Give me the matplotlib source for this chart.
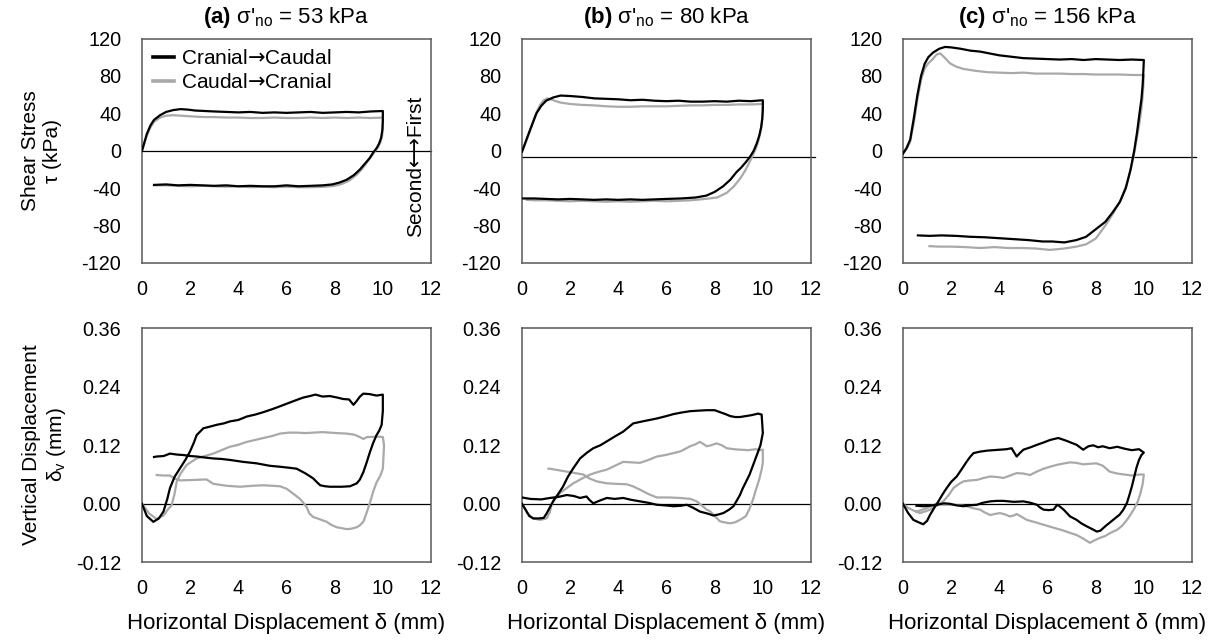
import matplotlib
matplotlib.use("Agg")
import matplotlib.pyplot as plt

plt.rcParams['font.family'] = ['Liberation Sans', 'DejaVu Sans']
plt.rcParams['mathtext.fontset'] = 'custom'
plt.rcParams['mathtext.rm'] = 'Liberation Sans'
plt.rcParams['mathtext.it'] = 'Liberation Sans:italic'
plt.rcParams['mathtext.bf'] = 'Liberation Sans:bold'
plt.rcParams['mathtext.sf'] = 'DejaVu Sans'
plt.rcParams['axes.unicode_minus'] = False

# ---------------- data ----------------
panel_tags = ["(a)", "(b)", "(c)"]
panel_stress = ["53", "80", "156"]
series_names = ["Cranial$\\mathsf{→}$Caudal", "Caudal$\\mathsf{→}$Cranial"]
x_ticks = [0, 2, 4, 6, 8, 10, 12]
tau_ticks = [120, 80, 40, 0, -40, -80, -120]
dv_ticks = [0.36, 0.24, 0.12, 0.00, -0.12]
dv_tick_labels = ["0.36", "0.24", "0.12", "0.00", "-0.12"]
top_zero_line = [0, -7, -7]

# ---- shear stress, panel (a)
a_tau_blk_x = [0, 0.1, 0.2, 0.35, 0.5, 0.75, 1.0, 1.3, 1.6, 1.9, 2.2, 2.6, 3.0, 3.5, 4.0, 4.5, 5.0, 5.5, 6.0, 6.5, 7.0, 7.5, 8.0, 8.5, 9.0, 9.5, 10.0,
               10.0, 9.98, 9.93, 9.85, 9.75, 9.6, 9.45, 9.25, 9.05, 8.8, 8.5, 8.2, 7.9, 7.5, 7.0, 6.5, 6.0, 5.5, 5.0, 4.5, 4.0, 3.5, 3.0, 2.5, 2.0, 1.5, 1.0, 0.5]
a_tau_blk_y = [0, 9, 18, 27, 33, 38, 41.5, 43.5, 44.5, 44, 43, 42.5, 42, 41.5, 41, 41.5, 40.5, 41, 40.5, 41, 41.5, 40.5, 41, 41.5, 41, 42, 42.5,
               32, 22, 14, 8, 3, -2, -8, -14, -20, -26, -31, -34, -36, -37, -37.5, -38, -37, -38, -38, -37.5, -38, -37, -37.5, -37, -36.5, -37, -36, -36.5]
a_tau_gry_x = [0, 0.1, 0.2, 0.35, 0.5, 0.75, 1.0, 1.3, 1.6, 1.9, 2.2, 2.6, 3.0, 3.5, 4.0, 4.5, 5.0, 5.5, 6.0, 6.5, 7.0, 7.5, 8.0, 8.5, 9.0, 9.5, 10.0,
               10.0, 9.97, 9.9, 9.8, 9.68, 9.55, 9.35, 9.15, 8.9, 8.6, 8.3, 8.0, 7.6, 7.0, 6.5, 6.0, 5.5, 5.0, 4.5, 4.0, 3.5, 3.0, 2.5, 2.0, 1.5, 1.0, 0.5]
a_tau_gry_y = [0, 8, 16, 25, 31, 35.5, 37.5, 38, 37.5, 37, 36.5, 36, 36, 35.5, 35.5, 35, 35, 35.5, 35, 35, 35.5, 35, 35.5, 35, 35.5, 35, 35.5,
               25, 16, 9, 4, 0, -5, -12, -19, -26, -32, -35.5, -37.5, -38.5, -39, -39, -38.5, -39, -38.5, -39, -38, -38.5, -38, -37.5, -38, -37.5, -37, -37]

# ---- shear stress, panel (b)
b_tau_blk_x = [0, 0.1, 0.2, 0.33, 0.45, 0.6, 0.8, 1.0, 1.3, 1.6, 2.0, 2.5, 3.0, 3.5, 4.0, 4.5, 5.0, 5.5, 6.0, 6.5, 7.0, 7.5, 8.0, 8.5, 9.0, 9.5, 10.0,
               10.0, 9.98, 9.93, 9.85, 9.75, 9.62, 9.48, 9.3, 9.1, 8.9, 8.65, 8.35, 8.0, 7.65, 7.2, 6.6, 6.0, 5.5, 5.0, 4.5, 4.0, 3.5, 3.0, 2.5, 2.0, 1.5, 1.0, 0.5, 0.05]
b_tau_blk_y = [-1, 6, 13, 22, 30, 40, 48, 53.5, 57, 59, 58.5, 57.5, 56, 55.5, 55, 54, 54.5, 53.5, 53, 53.5, 52.5, 52.5, 53, 52.5, 53.5, 53, 54,
               45, 35, 25, 16, 8, 0, -6, -12, -18, -23, -31, -38, -44, -48, -50, -51, -51.5, -52, -52.5, -52, -52.5, -52, -52.5, -52, -51.5, -52, -51.5, -51, -51]
b_tau_gry_x = [0, 0.1, 0.2, 0.33, 0.45, 0.6, 0.75, 0.9, 1.05, 1.2, 1.4, 1.6, 2.0, 2.5, 3.0, 3.5, 4.0, 4.5, 5.0, 5.5, 6.0, 6.5, 7.0, 7.5, 8.0, 8.5, 9.0, 9.5, 10.0,
               9.99, 9.96, 9.9, 9.82, 9.72, 9.6, 9.45, 9.25, 9.05, 8.8, 8.5, 8.1, 7.6, 7.0, 6.5, 6.0, 5.5, 5.0, 4.5, 4.0, 3.5, 3.0, 2.5, 2.0, 1.5, 1.0, 0.5, 0.2]
b_tau_gry_y = [-1, 5, 12, 21, 30, 41, 49, 54, 56, 55, 53, 51.5, 50, 49, 48.5, 47.5, 47, 47, 47.5, 47.5, 47.5, 48, 48.5, 48.5, 49, 49, 49.5, 49.5, 50,
               40, 30, 20, 11, 3, -4, -12, -22, -30, -38, -45, -50, -51.5, -53, -53.5, -54, -53.5, -54, -54.5, -54, -54.5, -54, -53.5, -54, -53.5, -53, -53, -52.5]

# ---- shear stress, panel (c)
c_tau_blk_x = [0, 0.15, 0.3, 0.45, 0.6, 0.75, 0.9, 1.05, 1.25, 1.5, 1.75, 2.0, 2.4, 2.8, 3.2, 3.6, 4.0, 4.5, 5.0, 5.5, 6.0, 6.5, 7.0, 7.5, 8.0, 8.5, 9.0, 9.5, 10.0,
               9.98, 9.95, 9.9, 9.82, 9.72, 9.6, 9.45, 9.25, 9.0, 8.7, 8.4, 8.0, 7.6, 7.2, 6.7, 6.2, 5.8, 5.2, 4.6, 4.0, 3.4, 2.8, 2.2, 1.6, 1.1, 0.62]
c_tau_blk_y = [-3, 3, 12, 35, 60, 80, 93, 100, 105, 109, 111, 110.5, 109, 107, 106, 104, 102, 100.5, 99, 98.5, 98, 97.5, 98, 97, 98, 97.5, 97, 97.5, 97,
               85, 70, 55, 40, 20, 0, -20, -40, -55, -66, -76, -84, -92, -95.5, -98, -97, -97, -95.5, -94.5, -93.5, -92.5, -92, -91, -90.5, -91, -90.5]
c_tau_gry_x = [0, 0.15, 0.3, 0.45, 0.6, 0.75, 0.9, 1.05, 1.2, 1.4, 1.55, 1.75, 1.95, 2.2, 2.5, 3.0, 3.5, 4.0, 4.5, 5.0, 5.5, 6.0, 6.5, 7.0, 7.5, 8.0, 8.5, 9.0, 9.5, 10.0,
               9.98, 9.95, 9.9, 9.82, 9.72, 9.62, 9.5, 9.3, 9.05, 8.75, 8.4, 8.0, 7.6, 7.2, 6.7, 6.1, 5.5, 5.0, 4.4, 3.8, 3.2, 2.6, 2.0, 1.5, 1.1]
c_tau_gry_y = [-3, 2, 10, 30, 55, 76, 88, 93.5, 97, 103, 104, 99, 93.5, 90, 87.5, 85.5, 84, 83.5, 83, 83.5, 82.5, 82.5, 82.5, 82, 82, 81.5, 81.5, 81.5, 81, 81,
               70, 58, 45, 30, 15, 0, -15, -35, -52, -66, -80, -94, -100, -102.5, -104.5, -106, -104.5, -104, -104, -103, -104, -103, -102.5, -102.5, -102]

# ---- vertical displacement, panel (a)
a_dv_blk_x = [0, 0.2, 0.47, 0.7, 0.89, 1.05, 1.16, 1.35, 1.58, 1.8, 1.99, 2.15, 2.27, 2.55, 2.8, 3.1, 3.4, 3.65, 4.0, 4.35, 4.7, 5.04, 5.4, 5.73, 6.1, 6.42, 6.7, 6.97, 7.2, 7.5, 7.8, 8.1, 8.35, 8.6, 8.78, 8.9, 9.05, 9.19, 9.45, 9.74, 10.0,
              10.0, 9.95, 9.85, 9.74, 9.6, 9.47, 9.33, 9.19, 9.05, 8.92, 8.64, 8.3, 8.0, 7.8, 7.6, 7.4, 7.25, 7.11, 6.8, 6.42, 6.1, 5.73, 5.3, 4.76, 4.2, 3.65, 3.3, 2.96, 2.6, 2.27, 2.0, 1.72, 1.45, 1.16, 0.9, 0.61, 0.5]
a_dv_blk_y = [0, -0.025, -0.037, -0.03, -0.016, 0.01, 0.032, 0.055, 0.073, 0.09, 0.107, 0.125, 0.141, 0.155, 0.158, 0.162, 0.165, 0.169, 0.172, 0.179, 0.183, 0.188, 0.194, 0.2, 0.207, 0.213, 0.218, 0.221, 0.224, 0.22, 0.221, 0.218, 0.215, 0.214, 0.203, 0.21, 0.22, 0.226, 0.225, 0.222, 0.224,
              0.19, 0.162, 0.15, 0.141, 0.125, 0.107, 0.085, 0.065, 0.05, 0.042, 0.036, 0.035, 0.035, 0.035, 0.036, 0.038, 0.045, 0.052, 0.062, 0.072, 0.074, 0.076, 0.078, 0.083, 0.086, 0.09, 0.092, 0.093, 0.095, 0.097, 0.098, 0.1, 0.101, 0.103, 0.098, 0.097, 0.096]
a_dv_gry_x = [0, 0.3, 0.6, 0.89, 1.1, 1.23, 1.35, 1.44, 1.6, 1.86, 2.05, 2.27, 2.6, 2.96, 3.3, 3.65, 4.0, 4.35, 4.7, 5.04, 5.4, 5.73, 6.1, 6.42, 6.8, 7.11, 7.5, 7.8, 8.1, 8.5, 8.8, 9.0, 9.19, 9.35, 9.47, 9.75, 10.0,
              10.05, 10.02, 10.0, 9.9, 9.74, 9.6, 9.47, 9.33, 9.19, 9.05, 8.92, 8.7, 8.5, 8.3, 8.08, 7.85, 7.67, 7.4, 7.11, 6.95, 6.84, 6.7, 6.56, 6.3, 6.0, 5.73, 5.4, 5.04, 4.6, 4.07, 3.5, 2.96, 2.68, 2.2, 1.58, 1.35, 1.16, 0.9, 0.61]
a_dv_gry_y = [0, -0.02, -0.031, -0.024, -0.01, -0.003, 0.02, 0.045, 0.062, 0.08, 0.086, 0.093, 0.098, 0.103, 0.11, 0.117, 0.121, 0.127, 0.131, 0.135, 0.139, 0.144, 0.146, 0.146, 0.145, 0.146, 0.147, 0.146, 0.145, 0.144, 0.142, 0.138, 0.133, 0.137, 0.137, 0.138, 0.137,
              0.12, 0.09, 0.072, 0.058, 0.044, 0.025, 0.003, -0.018, -0.037, -0.044, -0.048, -0.051, -0.052, -0.05, -0.048, -0.043, -0.037, -0.032, -0.027, -0.02, -0.007, 0.002, 0.01, 0.02, 0.031, 0.036, 0.037, 0.038, 0.037, 0.035, 0.037, 0.041, 0.05, 0.049, 0.048, 0.052, 0.058, 0.058, 0.059]

# ---- vertical displacement, panel (b)
b_dv_blk_x = [0, 0.15, 0.3, 0.47, 0.7, 0.9, 1.02, 1.15, 1.3, 1.5, 1.7, 1.9, 2.13, 2.41, 2.7, 2.96, 3.25, 3.52, 3.85, 4.2, 4.62, 5.1, 5.6, 6.0, 6.29, 6.6, 6.98, 7.3, 7.67, 8.0, 8.22, 8.45, 8.64, 8.85, 9.05, 9.3, 9.55, 9.8, 9.95, 10.0,
              9.9, 9.75, 9.6, 9.45, 9.3, 9.15, 9.05, 8.9, 8.78, 8.6, 8.36, 8.15, 7.95, 7.7, 7.39, 7.1, 6.84, 6.6, 6.29, 5.9, 5.6, 5.25, 4.9, 4.55, 4.2, 3.85, 3.52, 3.2, 2.96, 2.8, 2.68, 2.41, 2.15, 1.86, 1.5, 1.16, 0.8, 0.35, 0.0]
b_dv_blk_y = [0, -0.012, -0.025, -0.03, -0.03, -0.029, -0.02, -0.008, 0.006, 0.02, 0.035, 0.055, 0.073, 0.093, 0.105, 0.114, 0.12, 0.128, 0.138, 0.148, 0.165, 0.17, 0.175, 0.18, 0.184, 0.187, 0.19, 0.191, 0.192, 0.192, 0.188, 0.184, 0.18, 0.178, 0.178, 0.18, 0.182, 0.185, 0.183, 0.145,
              0.12, 0.1, 0.08, 0.06, 0.045, 0.03, 0.018, 0.005, -0.005, -0.012, -0.019, -0.022, -0.024, -0.02, -0.016, -0.008, -0.002, -0.004, -0.005, -0.003, -0.002, 0.002, 0.005, 0.008, 0.012, 0.01, 0.012, 0.006, 0.001, 0.008, 0.015, 0.012, 0.016, 0.018, 0.014, 0.012, 0.009, 0.01, 0.013]
b_dv_gry_x = [0, 0.2, 0.45, 0.75, 1.02, 1.15, 1.23, 1.4, 1.58, 1.85, 2.13, 2.5, 2.83, 3.2, 3.52, 3.9, 4.2, 4.55, 4.9, 5.25, 5.6, 5.95, 6.29, 6.6, 6.98, 7.2, 7.39, 7.55, 7.67, 7.85, 8.08, 8.3, 8.5, 8.8, 9.05, 9.4, 9.7, 9.9, 10.0,
              10.0, 9.95, 9.85, 9.72, 9.6, 9.45, 9.3, 9.15, 9.05, 8.85, 8.64, 8.4, 8.22, 8.0, 7.8, 7.67, 7.45, 7.25, 7.0, 6.56, 6.1, 5.6, 5.25, 4.9, 4.6, 4.35, 3.9, 3.52, 3.1, 2.8, 2.55, 2.2, 1.86, 1.5, 1.16, 1.1]
b_dv_gry_y = [0, -0.018, -0.03, -0.033, -0.03, -0.018, -0.002, 0.012, 0.022, 0.032, 0.042, 0.052, 0.06, 0.066, 0.07, 0.079, 0.086, 0.085, 0.084, 0.09, 0.097, 0.1, 0.104, 0.108, 0.118, 0.122, 0.127, 0.122, 0.118, 0.12, 0.124, 0.12, 0.114, 0.112, 0.111, 0.11, 0.112, 0.11, 0.111,
              0.085, 0.07, 0.05, 0.03, 0.01, -0.01, -0.025, -0.03, -0.033, -0.038, -0.04, -0.038, -0.036, -0.025, -0.015, -0.012, -0.003, 0.005, 0.01, 0.012, 0.013, 0.013, 0.02, 0.029, 0.036, 0.04, 0.041, 0.042, 0.046, 0.052, 0.06, 0.063, 0.066, 0.069, 0.072, 0.072]

# ---- vertical displacement, panel (c)
c_dv_blk_x = [0, 0.2, 0.43, 0.65, 0.84, 1.0, 1.12, 1.3, 1.47, 1.65, 1.81, 2.0, 2.23, 2.45, 2.65, 2.8, 2.93, 3.2, 3.48, 3.75, 4.03, 4.3, 4.51, 4.62, 4.72, 4.85, 5.0, 5.3, 5.56, 5.85, 6.11, 6.45, 6.8, 7.0, 7.21, 7.48, 7.7, 7.9, 8.1, 8.3, 8.58, 8.9, 9.2, 9.5, 9.8, 10.0,
              9.9, 9.8, 9.7, 9.6, 9.5, 9.4, 9.3, 9.15, 9.0, 8.8, 8.6, 8.4, 8.2, 8.05, 7.9, 7.62, 7.4, 7.21, 6.94, 6.67, 6.5, 6.4, 6.25, 6.05, 5.84, 5.7, 5.56, 5.3, 5.0, 4.6, 4.17, 3.9, 3.62, 3.3, 3.07, 2.8, 2.51, 2.2, 1.95, 1.7, 1.4, 1.1, 0.84, 0.56]
c_dv_blk_y = [0, -0.018, -0.033, -0.038, -0.042, -0.035, -0.023, -0.008, 0.005, 0.02, 0.032, 0.045, 0.056, 0.072, 0.087, 0.097, 0.104, 0.107, 0.109, 0.11, 0.111, 0.112, 0.114, 0.105, 0.097, 0.104, 0.111, 0.116, 0.121, 0.126, 0.131, 0.135, 0.129, 0.125, 0.121, 0.111, 0.118, 0.12, 0.116, 0.118, 0.114, 0.117, 0.113, 0.11, 0.112, 0.105,
              0.1, 0.09, 0.075, 0.055, 0.035, 0.018, 0.002, -0.012, -0.022, -0.03, -0.038, -0.046, -0.055, -0.057, -0.053, -0.046, -0.04, -0.033, -0.026, -0.012, -0.005, -0.002, -0.012, -0.013, -0.012, -0.008, -0.002, 0.002, 0.005, 0.004, 0.006, 0.006, 0.005, 0.002, -0.002, -0.003, -0.005, -0.003, 0.0, 0.001, -0.002, -0.004, -0.005, -0.004]
c_dv_gry_x = [0, 0.2, 0.45, 0.7, 0.9, 1.12, 1.4, 1.67, 1.9, 2.09, 2.3, 2.51, 2.8, 3.07, 3.35, 3.62, 3.9, 4.17, 4.45, 4.72, 5.0, 5.28, 5.55, 5.84, 6.1, 6.4, 6.7, 6.94, 7.2, 7.48, 7.75, 8.03, 8.3, 8.58, 8.9, 9.2, 9.5, 9.8, 10.0,
              9.95, 9.85, 9.75, 9.6, 9.45, 9.3, 9.1, 8.9, 8.6, 8.4, 8.17, 7.95, 7.76, 7.5, 7.21, 6.95, 6.67, 6.25, 5.84, 5.5, 5.14, 4.9, 4.72, 4.6, 4.44, 4.25, 4.03, 3.8, 3.62, 3.4, 3.2, 2.9, 2.65, 2.35, 2.09, 1.85, 1.67, 1.4, 1.2, 0.98, 0.75, 0.56]
c_dv_gry_y = [0, -0.008, -0.014, -0.019, -0.016, -0.012, -0.004, 0.005, 0.018, 0.032, 0.04, 0.046, 0.048, 0.049, 0.053, 0.056, 0.055, 0.053, 0.058, 0.063, 0.062, 0.059, 0.066, 0.072, 0.076, 0.08, 0.083, 0.085, 0.084, 0.081, 0.082, 0.083, 0.078, 0.066, 0.062, 0.06, 0.058, 0.06, 0.06,
              0.04, 0.02, 0.005, -0.01, -0.022, -0.033, -0.045, -0.053, -0.06, -0.066, -0.07, -0.075, -0.08, -0.072, -0.064, -0.06, -0.055, -0.049, -0.043, -0.038, -0.033, -0.026, -0.021, -0.024, -0.026, -0.022, -0.019, -0.021, -0.023, -0.018, -0.012, -0.009, -0.005, -0.003, -0.002, -0.002, -0.002, 0.0, -0.004, -0.009, -0.013, -0.016]

tau_black = [(a_tau_blk_x, a_tau_blk_y), (b_tau_blk_x, b_tau_blk_y), (c_tau_blk_x, c_tau_blk_y)]
tau_gray = [(a_tau_gry_x, a_tau_gry_y), (b_tau_gry_x, b_tau_gry_y), (c_tau_gry_x, c_tau_gry_y)]
dv_black = [(a_dv_blk_x, a_dv_blk_y), (b_dv_blk_x, b_dv_blk_y), (c_dv_blk_x, c_dv_blk_y)]
dv_gray = [(a_dv_gry_x, a_dv_gry_y), (b_dv_gry_x, b_dv_gry_y), (c_dv_gry_x, c_dv_gry_y)]

# ---------------- figure ----------------
W, H = 1225, 643
fig = plt.figure(figsize=(W / 100, H / 100), dpi=100)

lefts = [142, 522, 903]
aw = 289
top_row = (38.5, 263)
bot_row = (328.3, 562.3)

BLACK = '#000000'
GRAY = '#a9a9a9'
SPINE = '#595959'
FS_TICK = 14.3
FS = 15
FS_BIG = 16

def make_ax(left, row):
    t, b = row
    return fig.add_axes([left / W, 1 - b / H, aw / W, (b - t) / H])

for i in range(3):
    # ---- shear stress
    ax = make_ax(lefts[i], top_row)
    ax.axhline(top_zero_line[i], color='black', lw=0.9, zorder=1,
               xmax=1.0 if i == 0 else 1.013, clip_on=False)
    ax.plot(*tau_gray[i], color=GRAY, lw=1.6, label=series_names[1], zorder=2)
    ax.plot(*tau_black[i], color=BLACK, lw=1.6, label=series_names[0], zorder=3)
    ax.set_xlim(0, 12)
    ax.set_ylim(-120, 120)
    ax.set_xticks(x_ticks)
    ax.set_yticks(tau_ticks)
    ax.set_xticklabels([str(v) for v in x_ticks])
    ax.set_yticklabels([str(v) for v in tau_ticks])
    ax.tick_params(axis='x', length=0, labelsize=FS_TICK, pad=12)
    ax.tick_params(axis='y', length=0, labelsize=FS_TICK, pad=15)
    for sp in ax.spines.values():
        sp.set_color(SPINE)
        sp.set_linewidth(1.1)
    ax.set_title(r"$\mathbf{" + panel_tags[i] + r"}$ σ'$_{\mathrm{no}}$ = " + panel_stress[i] + " kPa",
                 fontsize=FS_BIG, pad=11)
    if i == 0:
        h, l = ax.get_legend_handles_labels()
        leg = ax.legend(h[::-1], l[::-1], loc='upper left', frameon=False, fontsize=FS,
                        handlelength=1.0, handletextpad=0.3, labelspacing=0.25,
                        borderaxespad=0.15, bbox_to_anchor=(0.0, 1.005))
        for ln in leg.get_lines():
            ln.set_linewidth(2.6)
        ax.text(11.35, -17, "Second⟷First", rotation=90, ha='center', va='center',
                fontsize=FS)

    # ---- vertical displacement
    ax2 = make_ax(lefts[i], bot_row)
    ax2.axhline(0, color='black', lw=0.9, zorder=1)
    ax2.plot(*dv_gray[i], color=GRAY, lw=1.6, zorder=2)
    ax2.plot(*dv_black[i], color=BLACK, lw=1.6, zorder=3)
    ax2.set_xlim(0, 12)
    ax2.set_ylim(-0.12, 0.36)
    ax2.set_xticks(x_ticks)
    ax2.set_yticks(dv_ticks)
    ax2.set_xticklabels([str(v) for v in x_ticks])
    ax2.set_yticklabels(dv_tick_labels)
    ax2.tick_params(axis='x', length=0, labelsize=FS_TICK, pad=12)
    ax2.tick_params(axis='y', length=0, labelsize=FS_TICK, pad=15)
    for sp in ax2.spines.values():
        sp.set_color(SPINE)
        sp.set_linewidth(1.1)
    ax2.set_xlabel("Horizontal Displacement δ (mm)", fontsize=FS_BIG, labelpad=11)

fig.text(42 / W, 1 - 150.75 / H, "Shear Stress\nτ (kPa)", rotation=90, ha='center', va='center',
         multialignment='center', fontsize=FS, linespacing=1.2)
fig.text(45 / W, 1 - 445 / H, "Vertical Displacement\nδ$_{\\mathrm{v}}$ (mm)", rotation=90, ha='center',
         va='center', multialignment='center', fontsize=FS, linespacing=1.25)

fig.savefig("out.png", dpi=100)
